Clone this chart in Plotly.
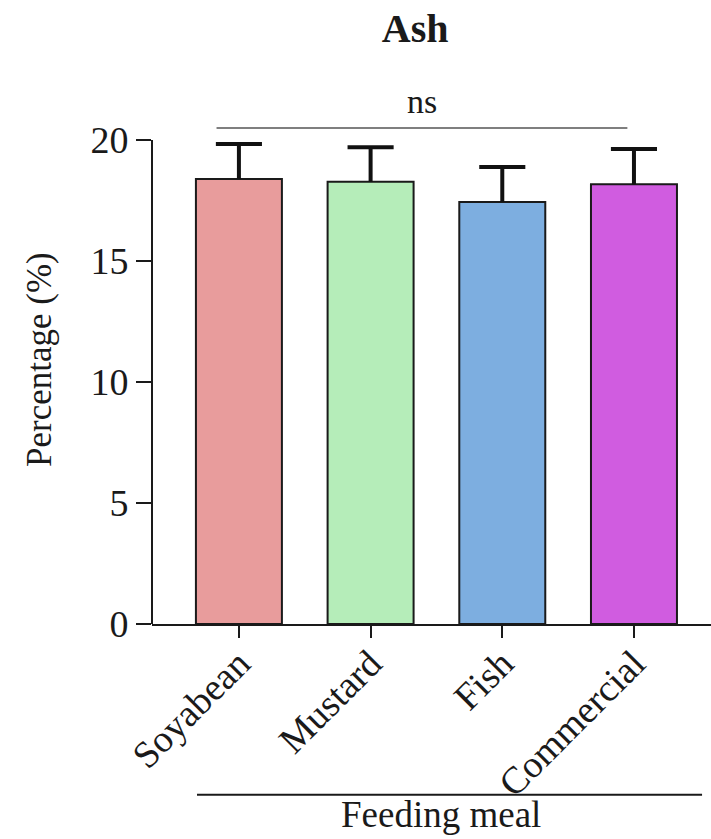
import plotly.graph_objects as go

categories = ["Soyabean", "Mustard", "Fish", "Commercial"]
means = [18.39, 18.28, 17.44, 18.17]
errors = [1.45, 1.42, 1.45, 1.46]
colors = ["#E89C9C", "#B5EDB9", "#7DAEE0", "#D05CE0"]
y_ticks = [0, 5, 10, 15, 20]

FONT = "Liberation Serif, Times New Roman, serif"
INK = "#1a1a1a"
CAP = 0.175  # half cap width in category units

xpos = list(range(len(categories)))

fig = go.Figure()
fig.add_trace(go.Bar(
    x=xpos,
    y=means,
    width=0.653,
    marker=dict(color=colors, line=dict(color=INK, width=2)),
    cliponaxis=False,
    showlegend=False,
    hoverinfo="skip",
))

# upward-only error bars (stem + top cap)
ex, ey = [], []
for i, m, e in zip(xpos, means, errors):
    ex += [i, i, None, i - CAP, i + CAP, None]
    ey += [m, m + e, None, m + e, m + e, None]
fig.add_trace(go.Scatter(x=ex, y=ey, mode="lines",
                         line=dict(color="#111111", width=4),
                         showlegend=False, hoverinfo="skip", cliponaxis=False))

# significance bracket
fig.add_shape(type="line", xref="x", yref="y", x0=-0.17, x1=2.95,
              y0=20.5, y1=20.5, line=dict(color="#555555", width=1.5))
fig.add_annotation(x=1.39, y=1.019, xref="x", yref="paper", text="ns",
                   xanchor="center", yanchor="middle",
                   showarrow=False, font=dict(family=FONT, size=34, color=INK))

# y axis line only up to 20
fig.add_shape(type="line", xref="paper", yref="y", x0=0, x1=0, y0=0, y1=20,
              line=dict(color=INK, width=2))

# x axis group line and title
fig.add_shape(type="line", xref="paper", yref="paper", x0=0.0805, x1=0.984,
              y0=-0.333, y1=-0.333, line=dict(color=INK, width=2))
fig.add_annotation(x=0.517, y=-0.415, xref="paper", yref="paper",
                   text="Feeding meal", showarrow=False,
                   xanchor="center", yanchor="bottom",
                   font=dict(family=FONT, size=37, color=INK))

# y axis title
fig.add_annotation(x=-0.2, y=0.515, xref="paper", yref="paper",
                   text="Percentage (%)", textangle=-90, showarrow=False,
                   xanchor="center", yanchor="middle",
                   font=dict(family=FONT, size=35, color=INK))

fig.update_layout(
    width=711, height=839,
    margin=dict(l=152, r=0, t=111, b=215),
    plot_bgcolor="white", paper_bgcolor="white",
    title=dict(text="<b>Ash</b>", x=0.584, xanchor="center",
               y=1 - 28 / 839, yanchor="middle", yref="container",
               font=dict(family=FONT, size=40, color=INK)),
    xaxis=dict(range=[-0.66, 3.585], tickvals=xpos, ticktext=categories,
               showline=True, linecolor=INK,
               linewidth=2, ticks="outside", ticklen=12, tickwidth=1.5,
               tickcolor=INK, tickangle=-45, showgrid=False, zeroline=False,
               ticklabelstandoff=-12,
               tickfont=dict(family=FONT, size=38, color=INK)),
    yaxis=dict(range=[0, 21.2], tickvals=y_ticks, showline=False,
               ticks="outside", ticklen=15, tickwidth=1.5, tickcolor=INK,
               showgrid=False, zeroline=False,
               tickfont=dict(family=FONT, size=38, color=INK)),
)

fig.write_html("out.html")
